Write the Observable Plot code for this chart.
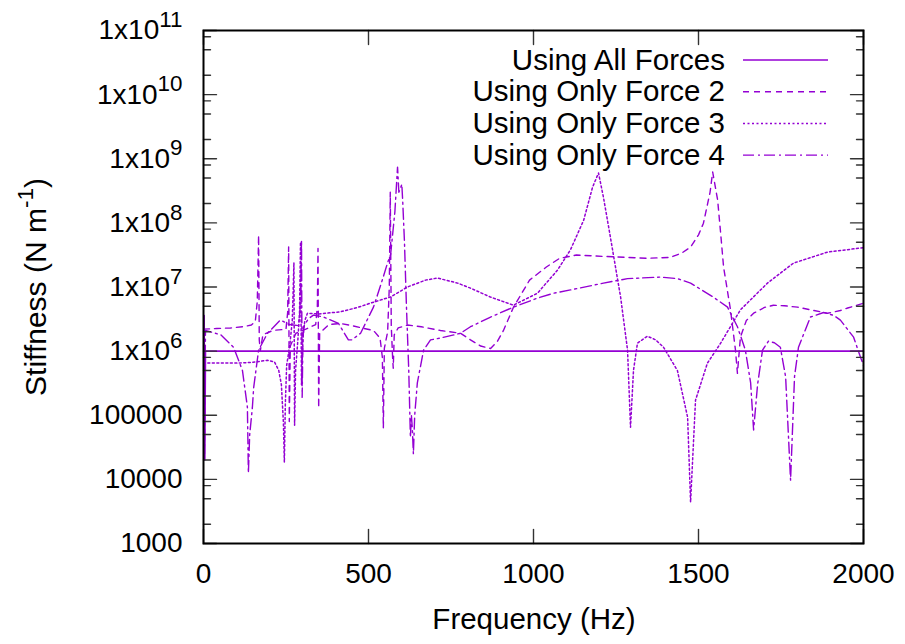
<!DOCTYPE html>
<html>
<head>
<meta charset="utf-8">
<script src="https://cdn.jsdelivr.net/npm/d3@7"></script>
<script src="https://cdn.jsdelivr.net/npm/@observablehq/plot@0.6"></script>
<style>
  html, body { margin: 0; padding: 0; background: #fff; }
  svg { display: block; }
</style>
</head>
<body>
<div id="chart"></div>
<script>
// ---------- DATA (frequency Hz, stiffness N/m) ----------
const seriesNames = ["Using All Forces", "Using Only Force 2", "Using Only Force 3", "Using Only Force 4"];

const allForces = [[0, 1.0e6], [2, 3.6e6], [4, 2.0e4], [6, 1.0e6], [500, 1.0e6], [1000, 1.0e6], [1500, 1.0e6], [2000, 1.0e6]];

const force2 = [[0, 2.2e6], [40, 2.25e6], [82, 2.3e6], [120, 2.4e6], [145, 2.55e6], [157, 2.9e6], [163, 6e6], [167, 6.4e7],
  [169, 1.5e6], [172, 1.0e6], [180, 1.8e6], [210, 2.1e6], [250, 2.2e6], [255, 4e6], [258, 4.2e7], [260, 8e4], [263, 1.2e6],
  [280, 1.9e6], [310, 2.2e6], [340, 2.6e6], [345, 5e6], [347, 4e7], [349, 1.3e5], [352, 1.9e6], [380, 2.6e6], [415, 2.7e6],
  [450, 2.5e6], [480, 2.3e6], [515, 2.1e6], [535, 1.6e6], [542, 8e5], [545, 6.3e4], [548, 1.1e6], [558, 2e6], [563, 1e7],
  [566, 3e8], [569, 2.5e6], [573, 8e5], [575, 5.4e5], [578, 1.8e6], [590, 2.3e6], [618, 2.55e6], [660, 2.4e6], [718, 2.1e6],
  [779, 1.9e6], [809, 1.5e6], [840, 1.2e6], [870, 1.1e6], [890, 1.4e6], [909, 2.1e6], [939, 4.8e6], [988, 1.28e7],
  [1039, 2.05e7], [1079, 2.8e7], [1130, 3.15e7], [1212, 3.0e7], [1280, 2.9e7], [1345, 2.8e7], [1415, 2.9e7], [1450, 3.4e7],
  [1476, 4.2e7], [1500, 6.5e7], [1515, 9.9e7], [1535, 3e8], [1543, 6.2e8], [1558, 2.27e8], [1567, 7e7], [1576, 2.05e7],
  [1597, 4.4e6], [1612, 1.04e6], [1618, 4.5e5], [1627, 1.65e6], [1645, 3e6], [1667, 3.9e6], [1700, 4.8e6], [1727, 5.2e6],
  [1760, 5.1e6], [1800, 4.85e6], [1850, 4.3e6], [1891, 3.9e6], [1930, 4.3e6], [1952, 4.7e6], [2000, 5.6e6]];

const force3 = [[0, 6.3e5], [6, 6.5e5], [50, 6.5e5], [100, 6.5e5], [150, 6.7e5], [194, 7.2e5], [215, 6.8e5], [228, 5e5],
  [236, 3e5], [242, 8e4], [245, 1.85e4], [248, 1.5e5], [252, 6e5], [262, 1.3e6], [269, 3e6], [272, 1e7], [274, 2.4e7],
  [276, 7e4], [279, 5e5], [286, 1.5e6], [291, 4e6], [294, 5e7], [297, 3e5], [301, 1.5e6], [307, 3e6], [315, 3.9e6],
  [350, 3.8e6], [415, 4.1e6], [467, 4.8e6], [506, 5.6e6], [567, 7e6], [618, 1.0e7], [673, 1.28e7], [709, 1.38e7],
  [770, 1.15e7], [809, 9.6e6], [870, 6.95e6], [939, 5.2e6], [1012, 8e6], [1073, 1.84e7], [1112, 3.8e7], [1152, 1.1e8],
  [1179, 3.6e8], [1197, 6e8], [1212, 2.5e8], [1233, 6e7], [1255, 1.3e7], [1264, 6.95e6], [1285, 1.04e6], [1294, 6.5e4],
  [1303, 5e5], [1315, 1.33e6], [1345, 1.71e6], [1370, 1.5e6], [1394, 1.15e6], [1436, 5e5], [1467, 9.3e4], [1476, 4.4e3],
  [1491, 1.72e5], [1527, 6.5e5], [1567, 1.33e6], [1627, 4.4e6], [1709, 1.15e7], [1788, 2.36e7], [1891, 3.5e7],
  [1991, 4.05e7], [2000, 4.1e7]];

const force4 = [[0, 3.0e6], [3, 2.5e4], [6, 2.1e6], [52, 1.8e6], [91, 1.15e6], [118, 5e5], [133, 1.34e5], [136, 1.25e4], [140, 5e4],
  [148, 1.3e5], [152, 2.7e5], [167, 1.04e6], [194, 1.9e6], [233, 3.05e6], [248, 2.8e6], [260, 2.6e6], [288, 2.5e6],
  [292, 4e6], [295, 1.2e7], [297, 5.4e7], [299, 1.9e5], [301, 1.2e6], [303, 2.4e6], [318, 3.2e6], [333, 3.65e6],
  [364, 3.4e6], [409, 2.7e6], [439, 1.5e6], [450, 1.5e6], [476, 1.9e6], [515, 4.85e6], [540, 1.2e7], [558, 2.4e7],
  [567, 3.2e7], [580, 1.5e8], [588, 7.4e8], [592, 3e8], [597, 3.5e8], [601, 4e8], [604, 2e8], [609, 5e7], [615, 5e6],
  [622, 5e5], [627, 4.5e4], [630, 1e5], [633, 6e4], [636, 2.5e4], [640, 1e5], [648, 3.2e5], [667, 1.04e6], [688, 1.5e6],
  [718, 1.6e6], [779, 1.9e6], [809, 2.4e6], [870, 3.4e6], [939, 4.85e6], [1012, 6.7e6], [1061, 8e6], [1112, 9e6],
  [1212, 1.15e7], [1285, 1.35e7], [1385, 1.43e7], [1436, 1.35e7], [1476, 1.15e7], [1545, 6.95e6], [1588, 4.85e6],
  [1618, 2.4e6], [1642, 1.04e6], [1658, 3.2e5], [1667, 5.9e4], [1679, 3e5], [1694, 1.04e6], [1712, 1.43e6], [1730, 1.35e6],
  [1748, 1.15e6], [1764, 4e5], [1779, 9.7e3], [1791, 4e5], [1803, 1.15e6], [1839, 3.4e6], [1879, 4e6], [1910, 3.6e6],
  [1930, 3.05e6], [1970, 1.65e6], [1991, 8e5], [2000, 6e5]];

const xTicks = [0, 500, 1000, 1500, 2000];
const yTicks = [1e3, 1e4, 1e5, 1e6, 1e7, 1e8, 1e9, 1e10, 1e11];
const yTickLabels = ["1000", "10000", "100000", "1x10^6", "1x10^7", "1x10^8", "1x10^9", "1x10^10", "1x10^11"];
const minorSteps = [2, 5, 8];
const xTitle = "Frequency (Hz)";
const yTitle = ["Stiffness (N m", "-1", ")"];

// ---------- STYLE ----------
const color = "#9400d3";
const font = "'Liberation Sans', Arial, sans-serif";
const dashes = [null, "6,5", "2,2.5", "11,4,2,4"];
const widths = [1.6, 1.4, 1.5, 1.4];
const seriesData = [allForces, force2, force3, force4];
const yMinor = yTicks.slice(0, -1).flatMap(d => minorSteps.map(m => d * m));

const tickShape = {draw(ctx, l) { ctx.moveTo(0, 0); ctx.lineTo(0, -l); }};
const tickStyle = {stroke: "#333", strokeWidth: 1.4, anchor: "start", shape: tickShape};

const chart = Plot.plot({
  width: 905, height: 644,
  marginLeft: 203, marginRight: 42, marginTop: 30, marginBottom: 101,
  style: {fontFamily: font, fontSize: "28px", color: "#000", background: "#fff", overflow: "visible"},
  x: {domain: [0, 2000]},
  y: {type: "log", domain: [1e3, 1e11]},
  marks: [
    ...seriesData.map((s, i) => Plot.line(s, {
      x: d => d[0], y: d => d[1], stroke: color, strokeWidth: widths[i],
      strokeDasharray: dashes[i], strokeLinejoin: "round", clip: true
    })),
    // ticks (inward, mirrored)
    Plot.vectorX(xTicks, {x: d => d, frameAnchor: "bottom", rotate: 0, length: 14, ...tickStyle}),
    Plot.vectorX(xTicks, {x: d => d, frameAnchor: "top", rotate: 180, length: 14, ...tickStyle}),
    Plot.vectorY(yTicks, {y: d => d, frameAnchor: "left", rotate: 90, length: 13, ...tickStyle}),
    Plot.vectorY(yTicks, {y: d => d, frameAnchor: "right", rotate: -90, length: 13, ...tickStyle}),
    Plot.vectorY(yMinor, {y: d => d, frameAnchor: "left", rotate: 90, length: 7, ...tickStyle}),
    Plot.vectorY(yMinor, {y: d => d, frameAnchor: "right", rotate: -90, length: 7, ...tickStyle}),
    Plot.frame({stroke: "#000", strokeWidth: 2}),
    Plot.axisX(xTicks, {tickSize: 0, tickPadding: 20, label: null, fontSize: 28, tickFormat: d => String(d)}),
    Plot.axisY(yTicks, {tickSize: 0, tickPadding: 21, label: null, fontSize: 28,
      tickFormat: d => yTickLabels[yTicks.indexOf(d)]})
  ]
});

document.getElementById("chart").appendChild(chart);
const svg = d3.select(chart);

// superscripts in y tick labels
svg.selectAll('g[aria-label="y-axis tick label"] text').each(function() {
  const t = d3.select(this);
  const s = t.text();
  if (s.includes("^")) {
    const [base, exp] = s.split("^");
    t.text(null);
    t.append("tspan").text(base);
    t.append("tspan").attr("font-size", "0.8em").attr("dy", "-0.55em").text(exp);
  }
});

// axis titles
svg.append("text")
  .attr("x", 534).attr("y", 629)
  .attr("text-anchor", "middle")
  .attr("font-family", font).attr("font-size", 29.5).attr("fill", "#000")
  .text(xTitle);

const yt = svg.append("text")
  .attr("transform", "translate(46,287) rotate(-90)")
  .attr("text-anchor", "middle")
  .attr("font-family", font).attr("font-size", 30).attr("fill", "#000");
yt.append("tspan").text(yTitle[0]);
yt.append("tspan").attr("font-size", "0.75em").attr("dy", "-0.6em").text(yTitle[1]);
yt.append("tspan").attr("dy", "0.45em").text(yTitle[2]);

// legend
const lg = svg.append("g").attr("font-family", font).attr("font-size", 29.5).attr("fill", "#000");
seriesNames.forEach((name, i) => {
  const cy = 60 + i * 31.7;
  lg.append("text").attr("x", 725).attr("y", cy).attr("dy", "0.33em")
    .attr("text-anchor", "end").text(name);
  lg.append("line").attr("x1", 743).attr("x2", 828).attr("y1", cy).attr("y2", cy)
    .attr("stroke", color).attr("stroke-width", widths[i])
    .attr("stroke-dasharray", dashes[i]);
});
</script>
</body>
</html>
